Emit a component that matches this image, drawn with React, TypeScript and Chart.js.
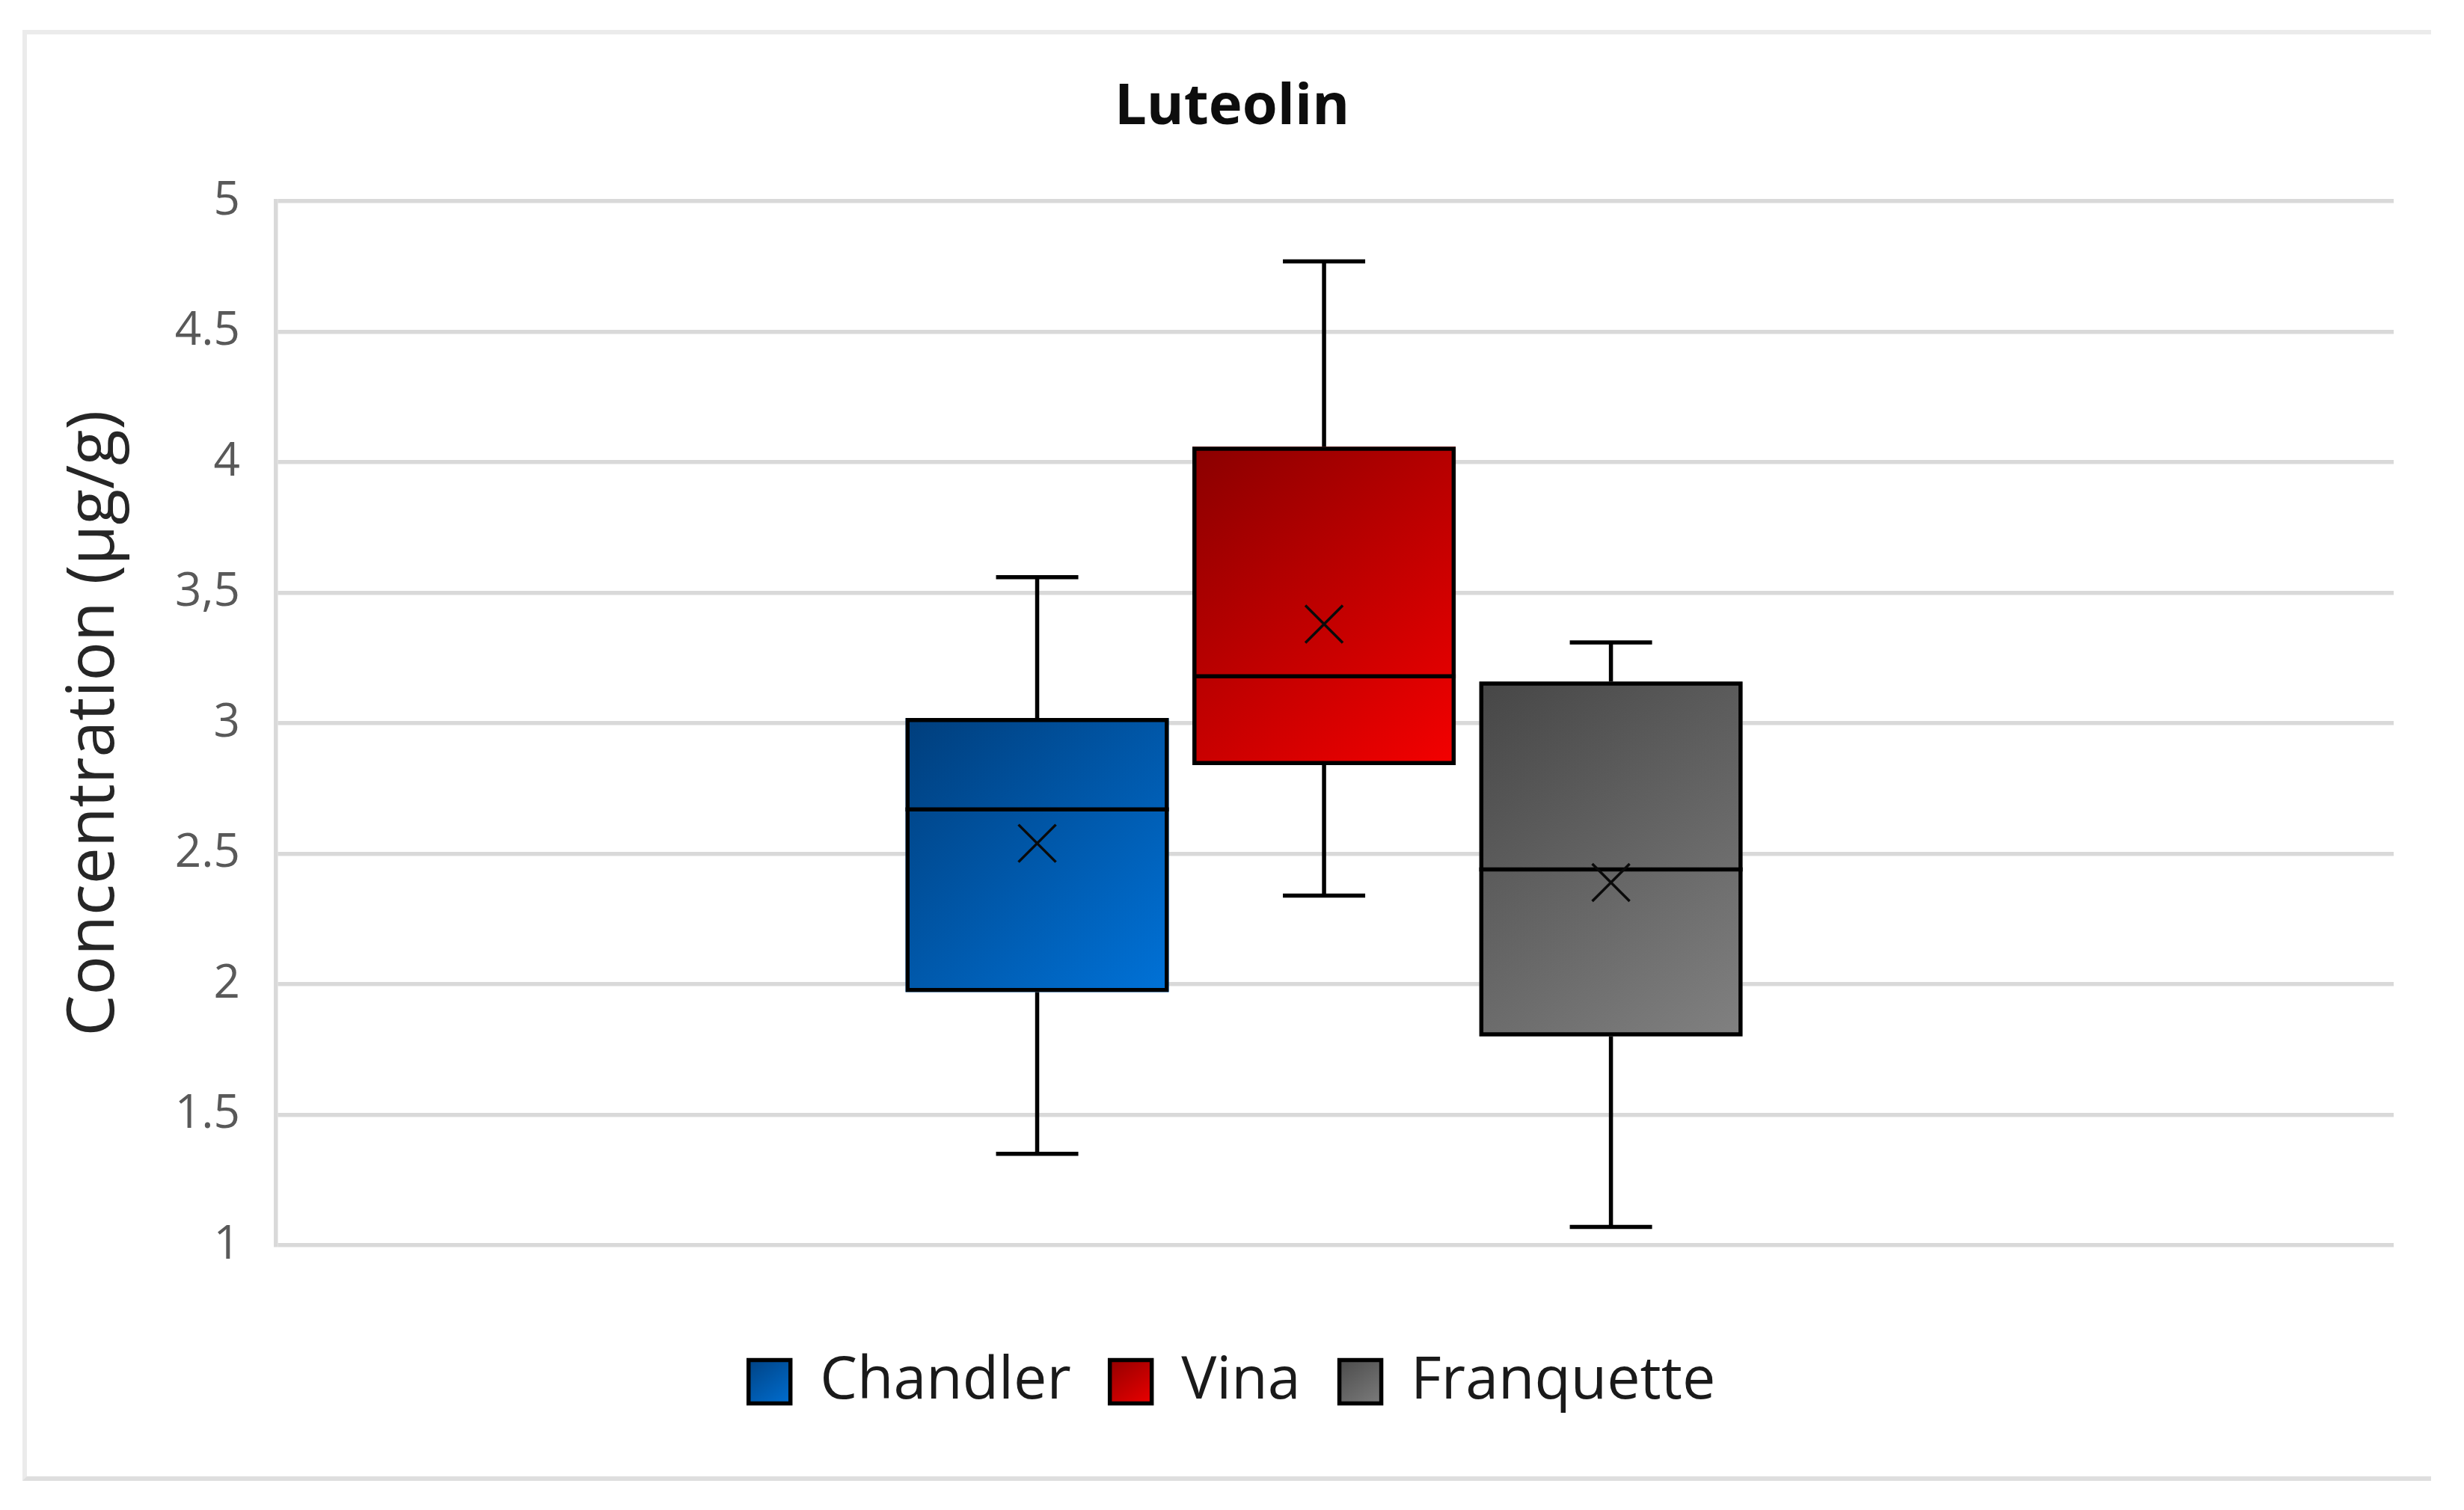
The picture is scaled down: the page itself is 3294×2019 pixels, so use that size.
import React, { useEffect, useRef } from 'react';
import { Chart, registerables } from 'chart.js';

Chart.register(...registerables);

// ---- data ----
const categories = ['Chandler', 'Vina', 'Franquette'];
const minValues = [1.35, 2.34, 1.07];
const q1Values = [1.97, 2.84, 1.8];
const medianValues = [2.67, 3.18, 2.44];
const q3Values = [3.02, 4.06, 3.16];
const maxValues = [3.56, 4.77, 3.31];
const meanValues = [2.54, 3.38, 2.39];
const tickValues = [1, 1.5, 2, 2.5, 3, 3.5, 4, 4.5, 5];
const tickLabels = ['1', '1.5', '2', '2.5', '3', '3,5', '4', '4.5', '5'];

// ---- styles ----
const gradientStart = ['#003e7c', '#8a0000', '#464646'];
const gradientEnd = ['#0072d8', '#f40000', '#818181'];
const FONT = "'Open Sans', 'Noto Sans', sans-serif";
const LINE_W = 5.5;
const CAP_HALF = 55;
const MEAN_HALF = 25;
const LEGEND_BOX_W = 56;
// the single box group sits slightly left of the plot centre (as in the reference)
const X_MIN = -0.4949;
const X_MAX = 0.5051;

const boxPlugin = {
  id: 'boxPlugin',
  beforeDraw(chart: any) {
    const legend = chart.legend;
    if (!legend || !legend.legendHitBoxes || !legend.legendItems) return;
    const ctx = chart.ctx;
    legend.legendItems.forEach((item: any, i: number) => {
      const hb = legend.legendHitBoxes[i];
      if (!hb) return;
      const di = item.datasetIndex ?? i;
      const g = ctx.createLinearGradient(hb.left, hb.top, hb.left + LEGEND_BOX_W, hb.top + hb.height);
      g.addColorStop(0, gradientStart[di]);
      g.addColorStop(1, gradientEnd[di]);
      item.fillStyle = g;
    });
  },
  beforeDatasetsDraw(chart: any) {
    const ctx = chart.ctx;
    chart.data.datasets.forEach((_ds: any, i: number) => {
      const meta = chart.getDatasetMeta(i);
      meta.data.forEach((el: any) => {
        const p = el.getProps(['x', 'y', 'base', 'width'], true);
        const left = p.x - p.width / 2;
        const right = p.x + p.width / 2;
        const top = Math.min(p.y, p.base);
        const bottom = Math.max(p.y, p.base);
        const g = ctx.createLinearGradient(left, top, right, bottom);
        g.addColorStop(0, gradientStart[i]);
        g.addColorStop(1, gradientEnd[i]);
        ctx.save();
        ctx.fillStyle = g;
        ctx.fillRect(left, top, right - left, bottom - top);
        ctx.restore();
      });
    });
  },
  afterDatasetsDraw(chart: any) {
    const ctx = chart.ctx;
    const y = chart.scales.y;
    chart.data.datasets.forEach((_ds: any, i: number) => {
      const meta = chart.getDatasetMeta(i);
      const el = meta.data[0];
      if (!el) return;
      const p = el.getProps(['x', 'width'], true);
      const cx = p.x;
      const left = cx - p.width / 2;
      const right = cx + p.width / 2;
      const yMin = y.getPixelForValue(minValues[i]);
      const yQ1 = y.getPixelForValue(q1Values[i]);
      const yMed = y.getPixelForValue(medianValues[i]);
      const yQ3 = y.getPixelForValue(q3Values[i]);
      const yMax = y.getPixelForValue(maxValues[i]);
      const yMean = y.getPixelForValue(meanValues[i]);
      ctx.save();
      ctx.strokeStyle = '#000000';
      ctx.lineWidth = LINE_W;
      ctx.lineCap = 'butt';
      ctx.beginPath();
      // upper whisker
      ctx.moveTo(cx, yQ3);
      ctx.lineTo(cx, yMax);
      ctx.moveTo(cx - CAP_HALF, yMax);
      ctx.lineTo(cx + CAP_HALF, yMax);
      // lower whisker
      ctx.moveTo(cx, yQ1);
      ctx.lineTo(cx, yMin);
      ctx.moveTo(cx - CAP_HALF, yMin);
      ctx.lineTo(cx + CAP_HALF, yMin);
      // median
      ctx.moveTo(left, yMed);
      ctx.lineTo(right, yMed);
      ctx.stroke();
      // mean marker
      ctx.lineWidth = 3.5;
      ctx.strokeStyle = '#0a0a0a';
      ctx.beginPath();
      ctx.moveTo(cx - MEAN_HALF, yMean - MEAN_HALF);
      ctx.lineTo(cx + MEAN_HALF, yMean + MEAN_HALF);
      ctx.moveTo(cx + MEAN_HALF, yMean - MEAN_HALF);
      ctx.lineTo(cx - MEAN_HALF, yMean + MEAN_HALF);
      ctx.stroke();
      ctx.restore();
    });
  },
};

export default function App() {
  const ref = useRef<HTMLCanvasElement>(null);

  useEffect(() => {
    const canvas = ref.current;
    if (!canvas) return;
    const datasets = categories.map((name, i) => ({
      label: name,
      data: [{ x: 0, y: [q1Values[i], q3Values[i]] }] as any,
      backgroundColor: 'rgba(0,0,0,0)',
      borderColor: '#000000',
      borderWidth: LINE_W,
      borderSkipped: false as any,
      categoryPercentage: 0.8212,
      barPercentage: 0.918,
    }));
    const chart = new Chart(canvas, {
      type: 'bar',
      data: { datasets },
      options: {
        responsive: false,
        maintainAspectRatio: false,
        animation: false,
        devicePixelRatio: 1,
        layout: { padding: { left: 0, right: 0, top: 0, bottom: 122 } },
        plugins: {
          title: {
            display: true,
            text: 'Luteolin',
            color: '#0d0d0d',
            font: { size: 76, weight: 'bold', family: FONT },
            padding: { top: 99, bottom: 79 },
          },
          legend: {
            display: true,
            position: 'bottom',
            labels: {
              font: { size: 79, family: FONT },
              color: '#1a1a1a',
              boxWidth: LEGEND_BOX_W,
              boxHeight: 58,
              padding: 52,
            },
          },
          tooltip: { enabled: false },
        },
        scales: {
          x: {
            type: 'linear',
            min: X_MIN,
            max: X_MAX,
            offset: false,
            display: true,
            grid: { display: false },
            border: { display: false },
            ticks: { display: false },
            afterBuildTicks: (s: any) => {
              s.ticks = [{ value: X_MIN }, { value: 0 }, { value: X_MAX }];
            },
            afterFit: (s: any) => {
              s.height = 91;
            },
          },
          y: {
            type: 'linear',
            position: 'left',
            min: 1,
            max: 5,
            ticks: {
              stepSize: 0.5,
              color: '#595959',
              font: { size: 62, family: FONT },
              padding: 48,
              callback: (value: any) => {
                const idx = tickValues.indexOf(Number(value));
                return idx >= 0 ? tickLabels[idx] : '';
              },
            },
            grid: { color: '#d9d9d9', lineWidth: LINE_W, drawTicks: false },
            border: { display: true, color: '#d9d9d9', width: LINE_W },
            title: {
              display: true,
              text: 'Concentration (μg/g)',
              color: '#262626',
              font: { size: 87.5, family: FONT },
              padding: { top: 75, bottom: 0 },
            },
            afterFit: (s: any) => {
              s.width = 369;
            },
          },
          yRight: {
            type: 'linear',
            position: 'right',
            display: true,
            grid: { display: false },
            border: { display: false },
            ticks: { display: false },
            afterFit: (s: any) => {
              s.width = 94;
            },
          },
        },
      } as any,
      plugins: [boxPlugin as any],
    });
    return () => chart.destroy();
  }, []);

  return (
    <div
      style={{
        position: 'absolute',
        left: 0,
        top: 0,
        width: 3294,
        height: 2019,
        background: '#ffffff',
        overflow: 'hidden',
      }}
    >
      <div
        style={{
          position: 'absolute',
          left: 30,
          top: 40,
          width: 3220,
          height: 1940,
          boxSizing: 'border-box',
          borderTop: '6px solid #ebebeb',
          borderLeft: '6px solid #ebebeb',
          borderBottom: '6px solid #dedede',
        }}
      />
      <canvas
        ref={ref}
        width={3294}
        height={2019}
        style={{ position: 'absolute', left: 0, top: 0, width: 3294, height: 2019 }}
      />
    </div>
  );
}
